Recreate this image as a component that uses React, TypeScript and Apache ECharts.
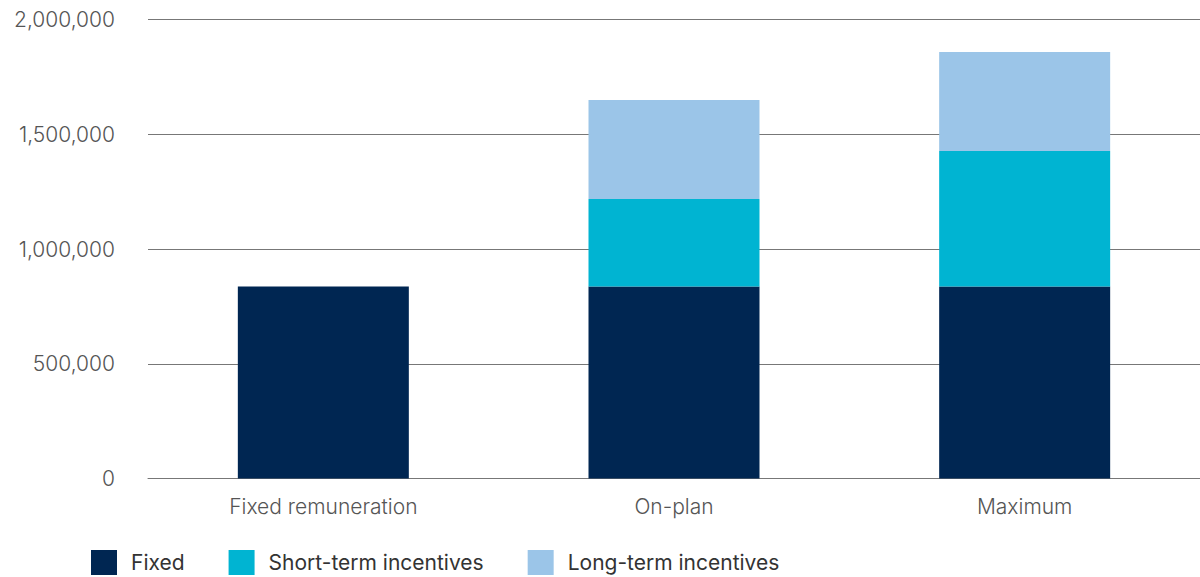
import React, { useEffect, useRef } from "react";
import * as echarts from "echarts";

const categories = ["Fixed remuneration", "On-plan", "Maximum"];
const fixedValues = [837000, 837000, 837000];
const shortTermValues = [0, 381000, 590000];
const longTermValues = [0, 431000, 431000];
const seriesNames = ["Fixed", "Short-term incentives", "Long-term incentives"];
const colors = ["#002652", "#00B4D2", "#9BC5E8"];

export default function App() {
  const ref = useRef<HTMLDivElement>(null);
  useEffect(() => {
    if (!ref.current) return;
    const chart = echarts.init(ref.current, null, { renderer: "svg" });
    const data = [fixedValues, shortTermValues, longTermValues];
    chart.setOption({
      animation: false,
      grid: { left: 148, right: 0, top: 19.5, bottom: 98.5 },
      legend: {
        left: 91,
        top: 550,
        padding: 0,
        itemWidth: 26,
        itemHeight: 25,
        itemGap: 44,
        icon: "rect",
        textStyle: {
          fontFamily: "Inter",
          fontSize: 21,
          color: "#333",
          padding: [2, 0, 0, 9],
          lineHeight: 22,
        },
        data: seriesNames,
      },
      xAxis: {
        type: "category",
        data: categories,
        axisTick: { show: false },
        axisLine: { lineStyle: { color: "#777", width: 1 } },
        axisLabel: {
          fontFamily: "Inter",
          fontWeight: 300,
          fontSize: 21,
          color: "#555",
          margin: 17,
        },
      },
      yAxis: {
        type: "value",
        min: 0,
        max: 2000000,
        interval: 500000,
        axisLabel: {
          fontFamily: "Inter",
          fontWeight: 300,
          fontSize: 21,
          color: "#555",
          margin: 33,
          formatter: (v: number) => v.toLocaleString("en-US"),
        },
        splitLine: { lineStyle: { color: "#777", width: 1 } },
      },
      series: seriesNames.map((name, i) => ({
        name,
        type: "bar",
        stack: "total",
        barWidth: 171,
        itemStyle: { color: colors[i] },
        data: data[i],
      })),
    });
    return () => chart.dispose();
  }, []);
  return <div ref={ref} style={{ width: 1200, height: 577, position: "absolute", left: 0, top: 0 }} />;
}
